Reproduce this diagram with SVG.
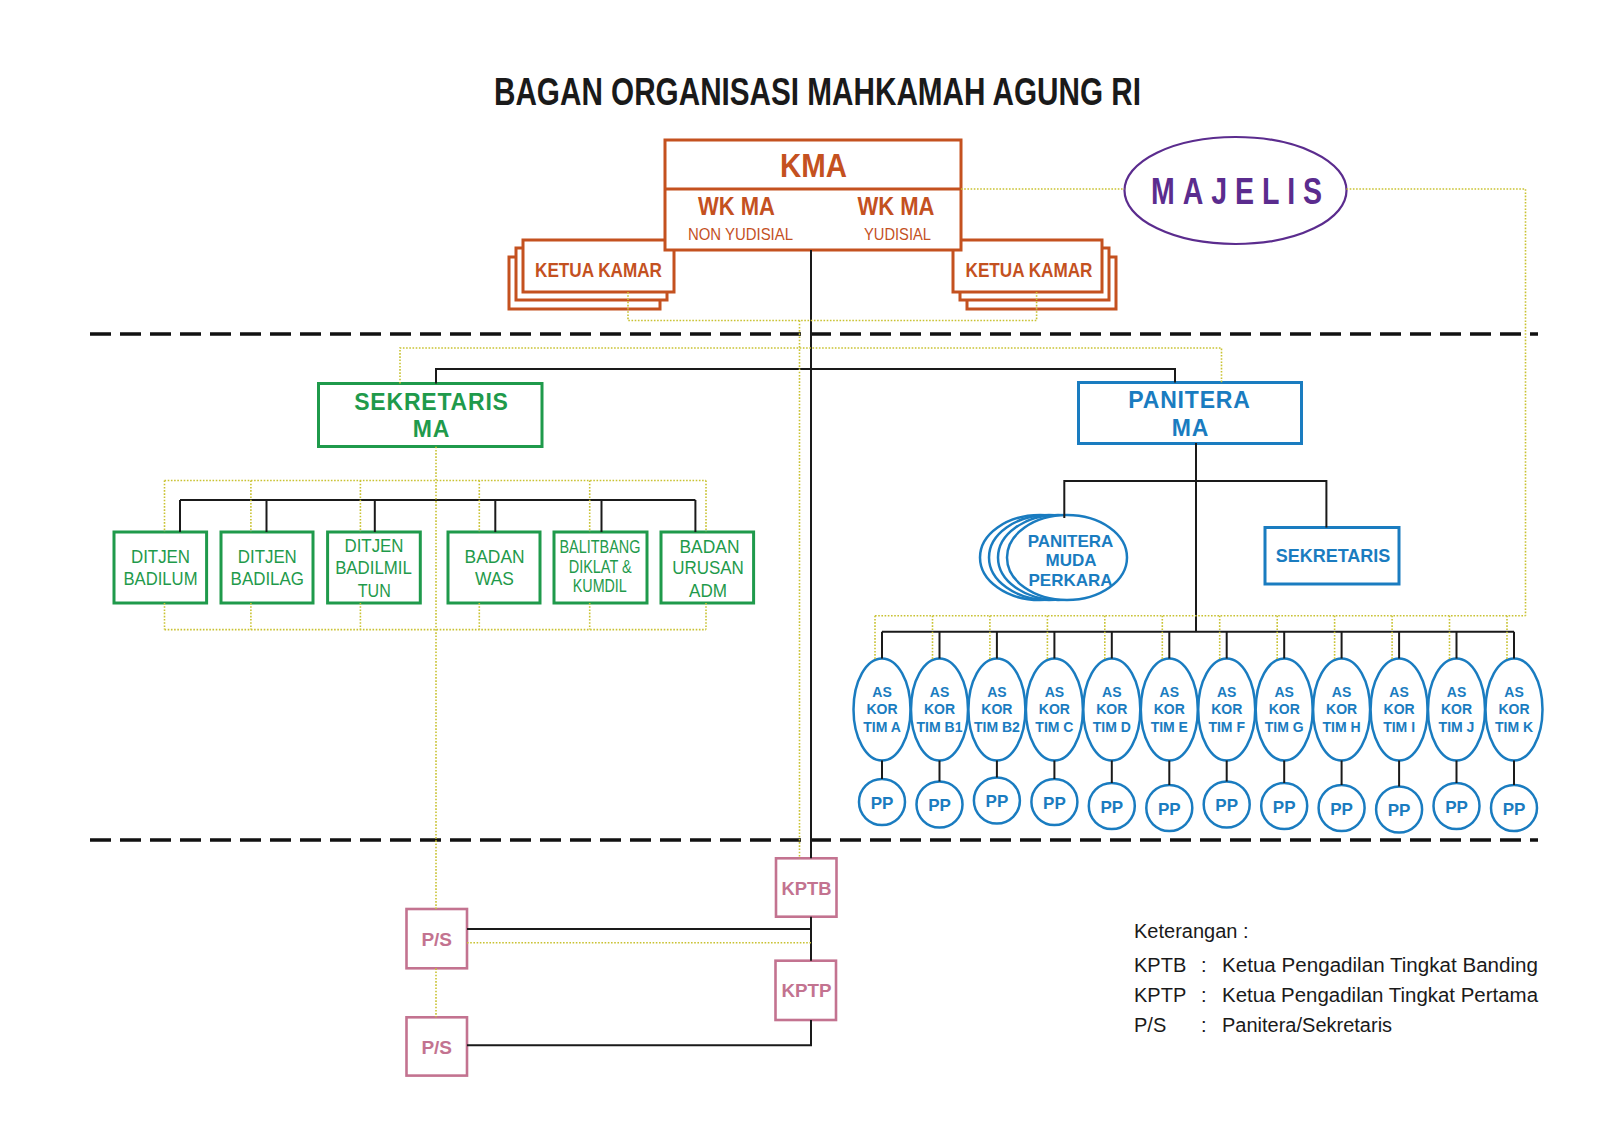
<svg xmlns="http://www.w3.org/2000/svg" width="1600" height="1130" viewBox="0 0 1600 1130">
<style>
text{font-family:"Liberation Sans",Arial,sans-serif}
.org{fill:#fff;stroke:#C4511F;stroke-width:3}
.grn{fill:#fff;stroke:#1F9A4B;stroke-width:3}
.blu{fill:#fff;stroke:#1A7CC0;stroke-width:3}
.blue2{fill:#fff;stroke:#1A7CC0;stroke-width:2.5}
.pnk{fill:#fff;stroke:#C37390;stroke-width:2.6}
.ln{stroke:#1a1a1a;stroke-width:2;fill:none}
.dot{stroke:#C9C232;stroke-width:1.6;stroke-dasharray:1.6 1.6;fill:none}
.dash{stroke:#111;stroke-width:3.5;stroke-dasharray:21 9;fill:none}
.to{fill:#C4511F;font-weight:bold;text-anchor:middle}
.tor{fill:#C4511F;text-anchor:middle}
.tg{fill:#1F9A4B;font-size:19px;text-anchor:middle}
.tgb{fill:#1F9A4B;font-weight:bold;font-size:23px;text-anchor:middle;letter-spacing:0.8px}
.tb{fill:#1A7CC0;font-weight:bold;text-anchor:middle}
.tas{fill:#1A7CC0;font-weight:bold;font-size:14px;text-anchor:middle}
.tpp{fill:#1A7CC0;font-weight:bold;font-size:17px;text-anchor:middle}
.tp{fill:#C37390;font-weight:bold;font-size:19px;text-anchor:middle}
.tl{fill:#1a1a1a;font-size:20px}
</style>

<text x="817.5" y="105" font-size="38" font-weight="bold" fill="#1a1a1a" text-anchor="middle" textLength="647" lengthAdjust="spacingAndGlyphs">BAGAN ORGANISASI MAHKAMAH AGUNG RI</text>

<g id="dashed-lines">
<line class="dash" x1="90" y1="334" x2="1538" y2="334"/>
<line class="dash" x1="90" y1="840" x2="1538" y2="840"/>
</g>

<g id="ketua-kamar-left">
<rect class="org" x="509" y="257" width="151" height="52"/>
<rect class="org" x="516" y="248" width="151" height="52"/>
<rect class="org" x="523" y="240" width="151" height="52"/>
<text class="to" x="598.5" y="277" font-size="21" textLength="127" lengthAdjust="spacingAndGlyphs">KETUA KAMAR</text>
</g>

<g id="ketua-kamar-right">
<rect class="org" x="967" y="257" width="149" height="52"/>
<rect class="org" x="960" y="248" width="149" height="52"/>
<rect class="org" x="953" y="240" width="149" height="52"/>
<text class="to" x="1029" y="277" font-size="21" textLength="127" lengthAdjust="spacingAndGlyphs">KETUA KAMAR</text>
</g>

<g id="kma">
<rect class="org" x="665" y="140" width="296" height="110"/>
<line x1="665" y1="189" x2="961" y2="189" stroke="#C4511F" stroke-width="3"/>
<text class="to" x="813.5" y="176.5" font-size="34" textLength="67" lengthAdjust="spacingAndGlyphs">KMA</text>
<text class="to" x="736.5" y="215" font-size="25" textLength="77" lengthAdjust="spacingAndGlyphs">WK MA</text>
<text class="tor" x="740.5" y="240" font-size="16.5" textLength="105" lengthAdjust="spacingAndGlyphs">NON YUDISIAL</text>
<text class="to" x="896" y="215" font-size="25" textLength="77" lengthAdjust="spacingAndGlyphs">WK MA</text>
<text class="tor" x="897.5" y="240" font-size="16.5" textLength="67" lengthAdjust="spacingAndGlyphs">YUDISIAL</text>
</g>

<g id="majelis">
<ellipse cx="1235.5" cy="190.5" rx="111" ry="53.5" fill="#fff" stroke="#5B2C8E" stroke-width="2.2"/>
<text x="1151" y="204" font-size="36" font-weight="bold" fill="#5B2C8E" letter-spacing="10" textLength="179" lengthAdjust="spacingAndGlyphs">MAJELIS</text>
</g>

<g id="sekretaris-ma">
<rect class="grn" x="318.5" y="383.5" width="223.5" height="63"/>
<text class="tgb" x="431.5" y="410">SEKRETARIS</text>
<text class="tgb" x="431.5" y="437.3">MA</text>
</g>

<g id="panitera-ma">
<rect class="blu" x="1078.5" y="382.5" width="223" height="61"/>
<text class="tb" x="1189.5" y="408.3" font-size="23" letter-spacing="0.8">PANITERA</text>
<text class="tb" x="1190.5" y="436" font-size="23" letter-spacing="0.8">MA</text>
</g>

<g id="ditjen-badilum">
<rect class="grn" x="114" y="532" width="92.6" height="71"/>
<text class="tg" x="160.5" y="563.3" textLength="59" lengthAdjust="spacingAndGlyphs">DITJEN</text>
<text class="tg" x="160.5" y="585" textLength="74" lengthAdjust="spacingAndGlyphs">BADILUM</text>
</g>
<g id="ditjen-badilag">
<rect class="grn" x="221" y="532" width="92" height="71"/>
<text class="tg" x="267.3" y="563.3" textLength="59" lengthAdjust="spacingAndGlyphs">DITJEN</text>
<text class="tg" x="267.3" y="585" textLength="73.4" lengthAdjust="spacingAndGlyphs">BADILAG</text>
</g>
<g id="ditjen-badilmil-tun">
<rect class="grn" x="327.6" y="532" width="92.7" height="71"/>
<text class="tg" x="374" y="551.7" textLength="59" lengthAdjust="spacingAndGlyphs">DITJEN</text>
<text class="tg" x="373.5" y="574" textLength="76.7" lengthAdjust="spacingAndGlyphs">BADILMIL</text>
<text class="tg" x="374.3" y="596.7" textLength="33" lengthAdjust="spacingAndGlyphs">TUN</text>
</g>
<g id="badan-was">
<rect class="grn" x="448" y="532" width="92" height="71"/>
<text class="tg" x="494.6" y="563.3" textLength="60" lengthAdjust="spacingAndGlyphs">BADAN</text>
<text class="tg" x="494.4" y="585" textLength="39" lengthAdjust="spacingAndGlyphs">WAS</text>
</g>
<g id="balitbang">
<rect class="grn" x="554" y="532" width="93" height="71"/>
<text class="tg" x="600" y="552.7" font-size="15.5" textLength="81" lengthAdjust="spacingAndGlyphs">BALITBANG</text>
<text class="tg" x="600.2" y="572.7" font-size="15.5" textLength="63" lengthAdjust="spacingAndGlyphs">DIKLAT &amp;</text>
<text class="tg" x="599.8" y="591.7" font-size="15.5" textLength="54" lengthAdjust="spacingAndGlyphs">KUMDIL</text>
</g>
<g id="badan-urusan-adm">
<rect class="grn" x="661" y="532" width="92.6" height="71"/>
<text class="tg" x="709.5" y="552.7" textLength="60" lengthAdjust="spacingAndGlyphs">BADAN</text>
<text class="tg" x="708" y="574.3" textLength="71.6" lengthAdjust="spacingAndGlyphs">URUSAN</text>
<text class="tg" x="708" y="596.7" textLength="38" lengthAdjust="spacingAndGlyphs">ADM</text>
</g>

<g id="panitera-muda-perkara">
<ellipse class="blue2" cx="1040" cy="557.5" rx="60" ry="42.5"/>
<ellipse class="blue2" cx="1049" cy="557.5" rx="60" ry="42.5"/>
<ellipse class="blue2" cx="1058" cy="557.5" rx="60" ry="42.5"/>
<ellipse class="blue2" cx="1067" cy="557.5" rx="60" ry="42.5"/>
<text class="tb" x="1070.5" y="546.7" font-size="17">PANITERA</text>
<text class="tb" x="1071" y="566.2" font-size="17">MUDA</text>
<text class="tb" x="1070.5" y="586" font-size="17">PERKARA</text>
</g>

<g id="sekretaris-panitera">
<rect class="blu" x="1265" y="527.5" width="134" height="56.5"/>
<text class="tb" x="1333" y="562.3" font-size="18">SEKRETARIS</text>
</g>

<g id="as-kor-tim-a"><ellipse class="blue2" cx="882" cy="709.5" rx="28.5" ry="51"/><text class="tas" x="882" y="696.7">AS</text><text class="tas" x="882" y="714">KOR</text><text class="tas" x="882" y="732">TIM A</text></g>
<g id="as-kor-tim-b1"><ellipse class="blue2" cx="939.5" cy="709.5" rx="28.5" ry="51"/><text class="tas" x="939.5" y="696.7">AS</text><text class="tas" x="939.5" y="714">KOR</text><text class="tas" x="939.5" y="732">TIM B1</text></g>
<g id="as-kor-tim-b2"><ellipse class="blue2" cx="996.9" cy="709.5" rx="28.5" ry="51"/><text class="tas" x="996.9" y="696.7">AS</text><text class="tas" x="996.9" y="714">KOR</text><text class="tas" x="996.9" y="732">TIM B2</text></g>
<g id="as-kor-tim-c"><ellipse class="blue2" cx="1054.4" cy="709.5" rx="28.5" ry="51"/><text class="tas" x="1054.4" y="696.7">AS</text><text class="tas" x="1054.4" y="714">KOR</text><text class="tas" x="1054.4" y="732">TIM C</text></g>
<g id="as-kor-tim-d"><ellipse class="blue2" cx="1111.8" cy="709.5" rx="28.5" ry="51"/><text class="tas" x="1111.8" y="696.7">AS</text><text class="tas" x="1111.8" y="714">KOR</text><text class="tas" x="1111.8" y="732">TIM D</text></g>
<g id="as-kor-tim-e"><ellipse class="blue2" cx="1169.3" cy="709.5" rx="28.5" ry="51"/><text class="tas" x="1169.3" y="696.7">AS</text><text class="tas" x="1169.3" y="714">KOR</text><text class="tas" x="1169.3" y="732">TIM E</text></g>
<g id="as-kor-tim-f"><ellipse class="blue2" cx="1226.7" cy="709.5" rx="28.5" ry="51"/><text class="tas" x="1226.7" y="696.7">AS</text><text class="tas" x="1226.7" y="714">KOR</text><text class="tas" x="1226.7" y="732">TIM F</text></g>
<g id="as-kor-tim-g"><ellipse class="blue2" cx="1284.2" cy="709.5" rx="28.5" ry="51"/><text class="tas" x="1284.2" y="696.7">AS</text><text class="tas" x="1284.2" y="714">KOR</text><text class="tas" x="1284.2" y="732">TIM G</text></g>
<g id="as-kor-tim-h"><ellipse class="blue2" cx="1341.6" cy="709.5" rx="28.5" ry="51"/><text class="tas" x="1341.6" y="696.7">AS</text><text class="tas" x="1341.6" y="714">KOR</text><text class="tas" x="1341.6" y="732">TIM H</text></g>
<g id="as-kor-tim-i"><ellipse class="blue2" cx="1399.1" cy="709.5" rx="28.5" ry="51"/><text class="tas" x="1399.1" y="696.7">AS</text><text class="tas" x="1399.1" y="714">KOR</text><text class="tas" x="1399.1" y="732">TIM I</text></g>
<g id="as-kor-tim-j"><ellipse class="blue2" cx="1456.5" cy="709.5" rx="28.5" ry="51"/><text class="tas" x="1456.5" y="696.7">AS</text><text class="tas" x="1456.5" y="714">KOR</text><text class="tas" x="1456.5" y="732">TIM J</text></g>
<g id="as-kor-tim-k"><ellipse class="blue2" cx="1514" cy="709.5" rx="28.5" ry="51"/><text class="tas" x="1514" y="696.7">AS</text><text class="tas" x="1514" y="714">KOR</text><text class="tas" x="1514" y="732">TIM K</text></g>

<g id="pp-a"><circle class="blue2" cx="882" cy="802" r="23"/><text class="tpp" x="882" y="808.5">PP</text></g>
<g id="pp-b1"><circle class="blue2" cx="939.5" cy="804.5" r="23"/><text class="tpp" x="939.5" y="811">PP</text></g>
<g id="pp-b2"><circle class="blue2" cx="996.9" cy="800.5" r="23"/><text class="tpp" x="996.9" y="807">PP</text></g>
<g id="pp-c"><circle class="blue2" cx="1054.4" cy="802" r="23"/><text class="tpp" x="1054.4" y="808.5">PP</text></g>
<g id="pp-d"><circle class="blue2" cx="1111.8" cy="806" r="23"/><text class="tpp" x="1111.8" y="812.5">PP</text></g>
<g id="pp-e"><circle class="blue2" cx="1169.3" cy="808" r="23"/><text class="tpp" x="1169.3" y="814.5">PP</text></g>
<g id="pp-f"><circle class="blue2" cx="1226.7" cy="804.5" r="23"/><text class="tpp" x="1226.7" y="811">PP</text></g>
<g id="pp-g"><circle class="blue2" cx="1284.2" cy="806" r="23"/><text class="tpp" x="1284.2" y="812.5">PP</text></g>
<g id="pp-h"><circle class="blue2" cx="1341.6" cy="808" r="23"/><text class="tpp" x="1341.6" y="814.5">PP</text></g>
<g id="pp-i"><circle class="blue2" cx="1399.1" cy="809.5" r="23"/><text class="tpp" x="1399.1" y="816">PP</text></g>
<g id="pp-j"><circle class="blue2" cx="1456.5" cy="806" r="23"/><text class="tpp" x="1456.5" y="812.5">PP</text></g>
<g id="pp-k"><circle class="blue2" cx="1514" cy="808" r="23"/><text class="tpp" x="1514" y="814.5">PP</text></g>

<g id="kptb">
<rect class="pnk" x="776" y="858.3" width="60.5" height="58.4"/>
<text class="tp" x="806.5" y="895" textLength="50" lengthAdjust="spacingAndGlyphs">KPTB</text>
</g>
<g id="kptp">
<rect class="pnk" x="775.5" y="960.7" width="60.5" height="59.3"/>
<text class="tp" x="806.5" y="996.5" textLength="50" lengthAdjust="spacingAndGlyphs">KPTP</text>
</g>
<g id="ps-banding">
<rect class="pnk" x="406.5" y="909" width="60.5" height="59.3"/>
<text class="tp" x="436.7" y="946">P/S</text>
</g>
<g id="ps-pertama">
<rect class="pnk" x="406.5" y="1017.3" width="60.5" height="58.3"/>
<text class="tp" x="436.7" y="1054.3">P/S</text>
</g>

<g id="connectors">
<line class="ln" x1="811" y1="250" x2="811" y2="858.3"/>
<line class="ln" x1="811" y1="916.7" x2="811" y2="960.7"/>
<polyline class="ln" points="811,1020 811,1045.3 467,1045.3"/>
<line class="ln" x1="467" y1="929" x2="811" y2="929"/>
<polyline class="ln" points="436,383.5 436,369 1175,369 1175,382.5"/>
<line class="ln" x1="180" y1="500" x2="695.4" y2="500"/>
<line class="ln" x1="180" y1="500" x2="180" y2="532"/>
<line class="ln" x1="266.5" y1="500" x2="266.5" y2="532"/>
<line class="ln" x1="374.8" y1="500" x2="374.8" y2="532"/>
<line class="ln" x1="495.3" y1="500" x2="495.3" y2="532"/>
<line class="ln" x1="601.5" y1="500" x2="601.5" y2="532"/>
<line class="ln" x1="695.4" y1="500" x2="695.4" y2="532"/>
<line class="ln" x1="1196" y1="443" x2="1196" y2="631.7"/>
<polyline class="ln" points="1064.3,518 1064.3,481 1326.4,481 1326.4,527.5"/>
<line class="ln" x1="882" y1="631.7" x2="1514" y2="631.7"/>
<line class="ln" x1="882" y1="631.7" x2="882" y2="658.5"/>
<line class="ln" x1="939.5" y1="631.7" x2="939.5" y2="658.5"/>
<line class="ln" x1="996.9" y1="631.7" x2="996.9" y2="658.5"/>
<line class="ln" x1="1054.4" y1="631.7" x2="1054.4" y2="658.5"/>
<line class="ln" x1="1111.8" y1="631.7" x2="1111.8" y2="658.5"/>
<line class="ln" x1="1169.3" y1="631.7" x2="1169.3" y2="658.5"/>
<line class="ln" x1="1226.7" y1="631.7" x2="1226.7" y2="658.5"/>
<line class="ln" x1="1284.2" y1="631.7" x2="1284.2" y2="658.5"/>
<line class="ln" x1="1341.6" y1="631.7" x2="1341.6" y2="658.5"/>
<line class="ln" x1="1399.1" y1="631.7" x2="1399.1" y2="658.5"/>
<line class="ln" x1="1456.5" y1="631.7" x2="1456.5" y2="658.5"/>
<line class="ln" x1="1514" y1="631.7" x2="1514" y2="658.5"/>
<line class="ln" x1="882" y1="760.5" x2="882" y2="779"/>
<line class="ln" x1="939.5" y1="760.5" x2="939.5" y2="781.5"/>
<line class="ln" x1="996.9" y1="760.5" x2="996.9" y2="777.5"/>
<line class="ln" x1="1054.4" y1="760.5" x2="1054.4" y2="779"/>
<line class="ln" x1="1111.8" y1="760.5" x2="1111.8" y2="783"/>
<line class="ln" x1="1169.3" y1="760.5" x2="1169.3" y2="785"/>
<line class="ln" x1="1226.7" y1="760.5" x2="1226.7" y2="781.5"/>
<line class="ln" x1="1284.2" y1="760.5" x2="1284.2" y2="783"/>
<line class="ln" x1="1341.6" y1="760.5" x2="1341.6" y2="785"/>
<line class="ln" x1="1399.1" y1="760.5" x2="1399.1" y2="786.5"/>
<line class="ln" x1="1456.5" y1="760.5" x2="1456.5" y2="783"/>
<line class="ln" x1="1514" y1="760.5" x2="1514" y2="785"/>
<line class="dot" x1="961" y1="189" x2="1124.5" y2="189"/>
<polyline class="dot" points="1346.5,189 1525.5,189 1525.5,615.7"/>
<polyline class="dot" points="628,292 628,320.5 1036.6,320.5 1036.6,292"/>
<line class="dot" x1="799.5" y1="320.5" x2="799.5" y2="858.3"/>
<polyline class="dot" points="400,383.5 400,348 1221.5,348 1221.5,382.5"/>
<line class="dot" x1="436" y1="446.7" x2="436" y2="909"/>
<line class="dot" x1="436" y1="968.3" x2="436" y2="1017.3"/>
<line class="dot" x1="467" y1="942.7" x2="811" y2="942.7"/>
<line class="dot" x1="164.5" y1="480.5" x2="706" y2="480.5"/>
<line class="dot" x1="164.5" y1="629.6" x2="706" y2="629.6"/>
<line class="dot" x1="164.5" y1="480.5" x2="164.5" y2="532"/>
<line class="dot" x1="250.9" y1="480.5" x2="250.9" y2="532"/>
<line class="dot" x1="360.4" y1="480.5" x2="360.4" y2="532"/>
<line class="dot" x1="479.3" y1="480.5" x2="479.3" y2="532"/>
<line class="dot" x1="589.7" y1="480.5" x2="589.7" y2="532"/>
<line class="dot" x1="706" y1="480.5" x2="706" y2="532"/>
<line class="dot" x1="164.5" y1="603" x2="164.5" y2="629.6"/>
<line class="dot" x1="250.9" y1="603" x2="250.9" y2="629.6"/>
<line class="dot" x1="360.4" y1="603" x2="360.4" y2="629.6"/>
<line class="dot" x1="479.3" y1="603" x2="479.3" y2="629.6"/>
<line class="dot" x1="589.7" y1="603" x2="589.7" y2="629.6"/>
<line class="dot" x1="706" y1="603" x2="706" y2="629.6"/>
<line class="dot" x1="875" y1="615.7" x2="1525.5" y2="615.7"/>
<line class="dot" x1="875" y1="615.7" x2="875" y2="660.5"/>
<line class="dot" x1="932.5" y1="615.7" x2="932.5" y2="660.5"/>
<line class="dot" x1="989.9" y1="615.7" x2="989.9" y2="660.5"/>
<line class="dot" x1="1047.4" y1="615.7" x2="1047.4" y2="660.5"/>
<line class="dot" x1="1104.8" y1="615.7" x2="1104.8" y2="660.5"/>
<line class="dot" x1="1162.3" y1="615.7" x2="1162.3" y2="660.5"/>
<line class="dot" x1="1219.7" y1="615.7" x2="1219.7" y2="660.5"/>
<line class="dot" x1="1277.2" y1="615.7" x2="1277.2" y2="660.5"/>
<line class="dot" x1="1334.6" y1="615.7" x2="1334.6" y2="660.5"/>
<line class="dot" x1="1392.1" y1="615.7" x2="1392.1" y2="660.5"/>
<line class="dot" x1="1449.5" y1="615.7" x2="1449.5" y2="660.5"/>
<line class="dot" x1="1507" y1="615.7" x2="1507" y2="660.5"/>
</g>

<g id="legend">
<text class="tl" x="1134" y="937.5">Keterangan :</text>
<text class="tl" x="1134" y="972">KPTB</text>
<text class="tl" x="1201" y="972">:</text>
<text class="tl" x="1222" y="972" textLength="316" lengthAdjust="spacingAndGlyphs">Ketua Pengadilan Tingkat Banding</text>
<text class="tl" x="1134" y="1002">KPTP</text>
<text class="tl" x="1201" y="1002">:</text>
<text class="tl" x="1222" y="1002" textLength="316" lengthAdjust="spacingAndGlyphs">Ketua Pengadilan Tingkat Pertama</text>
<text class="tl" x="1134" y="1032">P/S</text>
<text class="tl" x="1201" y="1032">:</text>
<text class="tl" x="1222" y="1032">Panitera/Sekretaris</text>
</g>
</svg>
